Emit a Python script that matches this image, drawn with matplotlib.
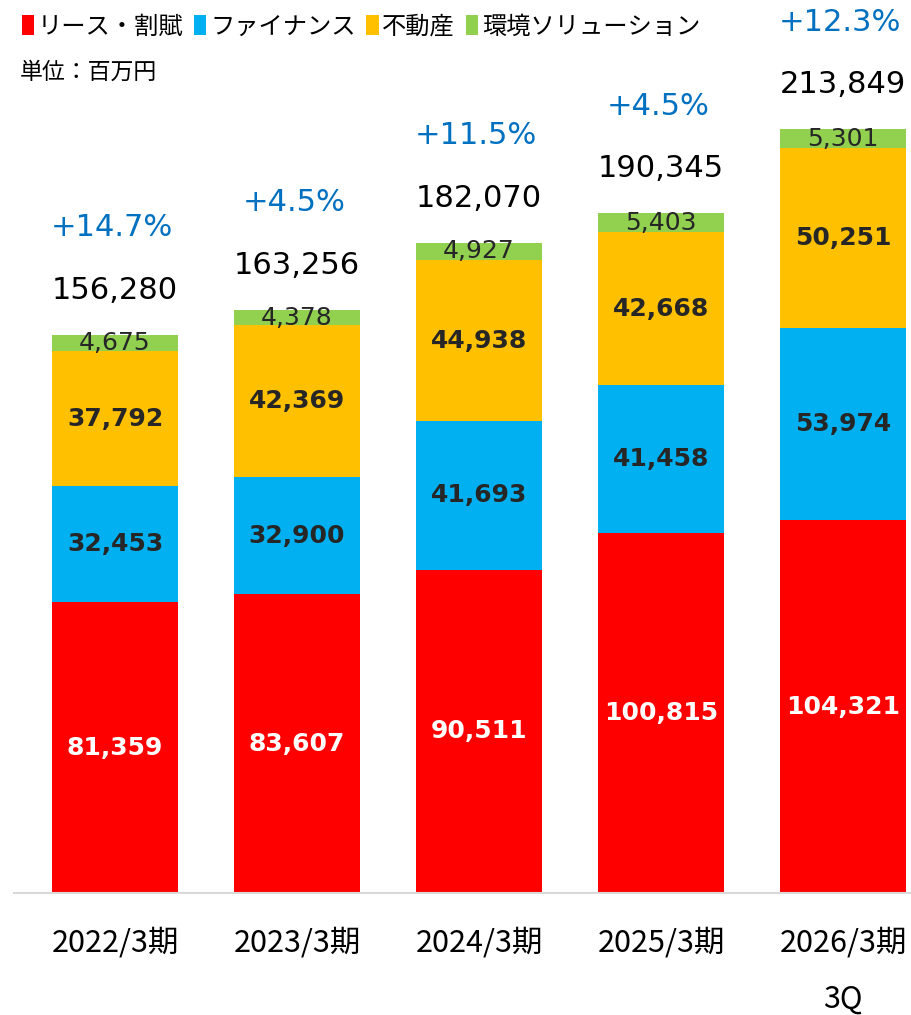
import matplotlib
matplotlib.use("Agg")
import matplotlib.pyplot as plt
from matplotlib.patches import Patch
import numpy as np

plt.rcParams['font.family'] = ['DejaVu Sans', 'Noto Sans CJK JP']

categories = ["2022/3期", "2023/3期", "2024/3期", "2025/3期", "2026/3期\n3Q"]
series_names = ["リース・割賦", "ファイナンス", "不動産", "環境ソリューション"]
lease = [81359, 83607, 90511, 100815, 104321]
finance = [32453, 32900, 41693, 41458, 53974]
realestate = [37792, 42369, 44938, 42668, 50251]
environment = [4675, 4378, 4927, 5403, 5301]
totals = [156280, 163256, 182070, 190345, 213849]
growth = ["+14.7%", "+4.5%", "+11.5%", "+4.5%", "+12.3%"]

colors = ["#FF0000", "#00B0F0", "#FFC000", "#92D050"]
label_colors = ["white", "#262626", "#262626", "#262626"]
label_weights = ["bold", "bold", "bold", "normal"]

fig = plt.figure(figsize=(9.12, 10.15), dpi=100)
ax = fig.add_axes([14/912, 122/1015, 898/912, 893/1015])

x = np.arange(len(categories))
width = 0.69
bottom = np.zeros(len(categories))
for vals, c, lc, lw in zip([lease, finance, realestate, environment], colors, label_colors, label_weights):
    vals = np.array(vals, dtype=float)
    ax.bar(x, vals, width, bottom=bottom, color=c, edgecolor='none')
    for xi, b, v in zip(x, bottom, vals):
        ax.text(xi, b + v / 2, f"{int(v):,}", ha='center', va='center',
                color=lc, fontsize=18, fontweight=lw)
    bottom += vals

for xi, t, g in zip(x, totals, growth):
    ax.annotate(f"{t:,}", (xi, t), xytext=(0, 32), textcoords='offset points',
                ha='center', va='center', fontsize=22, color='black')
    ax.annotate(g, (xi, t), xytext=(-2, 77), textcoords='offset points',
                ha='center', va='center', fontsize=22, color='#0070C0')

ax.set_xlim(-0.555, 4.379)
ax.set_ylim(0, 250000)
ax.set_xticks(x)
ax.set_xticklabels(categories, fontsize=22, family=['Noto Sans CJK JP'], linespacing=2.05)
ax.tick_params(axis='x', length=0, pad=25)
ax.set_yticks([])
for s in ['top', 'right', 'left']:
    ax.spines[s].set_visible(False)
ax.spines['bottom'].set_color('#D9D9D9')
ax.spines['bottom'].set_linewidth(1.5)

handles = [Patch(facecolor=c, edgecolor='none') for c in colors]
fig.legend(handles, series_names, loc='upper left', bbox_to_anchor=(0.0, 1.008),
           ncol=4, frameon=False, handlelength=0.5, handleheight=0.9,
           handletextpad=0.15, columnspacing=0.45,
           prop={'family': ['Noto Sans CJK JP'], 'size': 17.5})
fig.text(20/912, 1 - 72/1015, "単位：百万円", fontsize=16.5, family=['Noto Sans CJK JP'],
         ha='left', va='center')

fig.savefig("out.png", dpi=100)
